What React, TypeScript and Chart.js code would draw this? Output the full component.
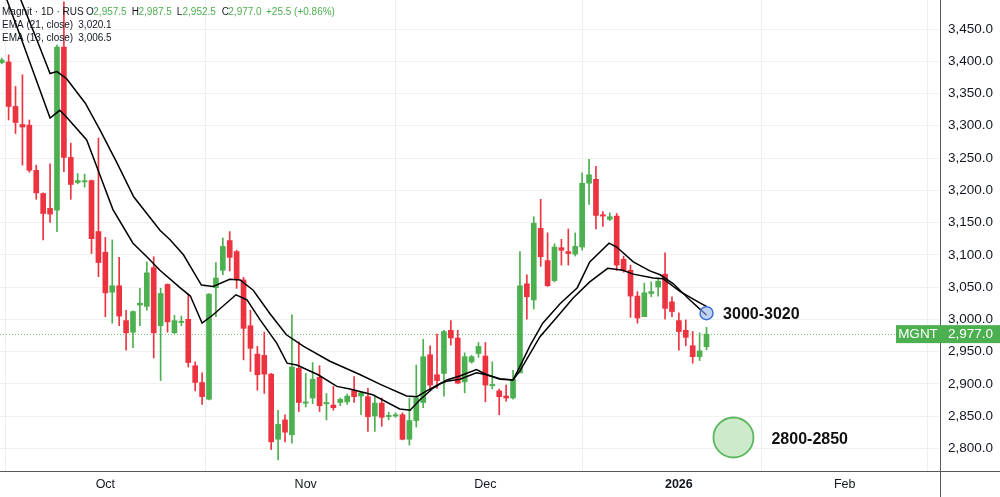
import React, { useEffect, useRef } from "react";
import { Chart, registerables } from "chart.js";

Chart.register(...registerables);

// ---- Data (daily candles, bar index 0..102) ----
const barOpen = [
  3398, 3399, 3330, 3302, 3301, 3231, 3195, 3172, 3169, 3422,
  3251, 3212, 3213, 3215, 3136, 3104, 3042, 3052, 2998, 2980,
  3022, 3020, 3080, 2990, 3054, 2979, 2995, 3000, 2928, 2902,
  2876, 3049, 3076, 3122, 3105, 3061, 2990, 2946, 2944, 2915,
  2814, 2844, 2821, 2924, 2870, 2878, 2910, 2869, 2867, 2871,
  2872, 2890, 2881, 2880, 2850, 2870, 2849, 2850, 2852, 2814,
  2843, 2871, 2945, 2914, 2916, 2983, 2971, 2903, 2934, 2947,
  2943, 2897, 2889, 2881, 2878, 2917, 3055, 3030, 3141, 3091,
  3060, 3111, 3105, 3101, 3112, 3211, 3217, 3162, 3155, 3160,
  3093, 3076, 3036, 3004, 3040, 3050, 3070, 3027, 2998, 2983,
  2959, 2942, 2957.5,
];
const barHigh = [
  3405, 3410, 3361, 3379, 3309, 3239, 3196, 3241, 3425, 3492,
  3273, 3226, 3225, 3216, 3281, 3127, 3123, 3096, 3014, 3013,
  3048, 3089, 3097, 3048, 3055, 3006, 3005, 3039, 2934, 2917,
  3040, 3088, 3126, 3136, 3107, 3065, 3014, 2958, 2980, 2916,
  2859, 2852, 3007, 2965, 2916, 2933, 2928, 2885, 2896, 2878,
  2884, 2911, 2888, 2893, 2879, 2878, 2856, 2855, 2855, 2878,
  2929, 2969, 2959, 2977, 2983, 2998, 2983, 2948, 2944, 2964,
  2964, 2934, 2892, 2898, 2921, 3105, 3069, 3159, 3186, 3134,
  3117, 3124, 3140, 3134, 3227, 3248, 3237, 3167, 3165, 3164,
  3098, 3084, 3043, 3056, 3058, 3064, 3103, 3035, 3010, 2999,
  2981, 2979, 2987.5,
];
const barLow = [
  3396, 3309, 3288, 3239, 3228, 3186, 3123, 3150, 3136, 3229,
  3186, 3210, 3205, 3102, 3066, 3004, 2994, 2990, 2952, 2956,
  2990, 3014, 2940, 2905, 2980, 2978, 2990, 2926, 2889, 2868,
  2875, 3004, 3069, 3075, 3048, 2937, 2919, 2890, 2885, 2798,
  2782, 2810, 2808, 2857, 2864, 2869, 2857, 2844, 2859, 2866,
  2868, 2871, 2852, 2826, 2826, 2834, 2844, 2848, 2813, 2805,
  2833, 2863, 2889, 2893, 2881, 2960, 2900, 2886, 2932, 2941,
  2872, 2892, 2852, 2873, 2876, 2917, 3000, 3016, 3082, 3051,
  3058, 3084, 3084, 3098, 3107, 3178, 3140, 3144, 3153, 3076,
  3073, 3003, 2994, 3004, 3035, 3036, 3000, 3004, 2952, 2959,
  2932, 2936, 2952.5,
];
const barClose = [
  3402, 3330, 3305, 3298, 3231, 3196, 3164, 3163, 3422, 3251,
  3209, 3215, 3215, 3125, 3088, 3041, 3052, 3005, 2979, 3012,
  3025, 3072, 2979, 3040, 2996, 2998, 2997, 2933, 2902, 2880,
  3039, 3064, 3113, 3096, 3062, 2986, 2955, 2914, 2915, 2810,
  2837, 2825, 2926, 2871, 2872, 2907, 2866, 2871, 2863, 2876,
  2881, 2880, 2886, 2849, 2870, 2848, 2851, 2852, 2814, 2843,
  2878, 2942, 2898, 2905, 2981, 2971, 2901, 2942, 2942, 2958,
  2898, 2899, 2880, 2878, 2907, 3052, 3035, 3149, 3097, 3052,
  3112, 3107, 3102, 3113, 3211, 3224, 3161, 3160, 3159, 3084,
  3076, 3036, 3002, 3041, 3043, 3059, 3017, 3012, 2981, 2972,
  2942, 2951, 2977.0,
];

// EMA lines (bar index, value)
const ema13Idx = [
  0, 2.9, 7.0, 8.4, 9.5, 12.3, 14.2, 16.1, 19.0, 21.0, 22.9, 25.8, 27.3, 29.0,
  30.6, 33.9, 35.5, 37.4, 39.8, 41.3, 42.7, 45.8, 48.5, 50.4, 53.7, 57.6, 59.1,
  60.5, 62.4, 64.4, 66.3, 68.7, 70.2, 72.1, 74.0, 75.0, 76.5, 78.3, 80.8, 83.3,
  85.1, 87.9, 89.0, 91.4, 93.8, 95.3, 97.2, 99.6, 102,
];
const ema13Val = [
  3517, 3433, 3312, 3324, 3312, 3278, 3224, 3170, 3118, 3097, 3076, 3049, 3036, 2994,
  3007, 3038, 3030, 2999, 2963, 2932, 2929, 2914, 2896, 2892, 2883, 2861, 2859,
  2875, 2893, 2906, 2912, 2922, 2914, 2907, 2906, 2927, 2960, 2994, 3024, 3049,
  3089, 3118, 3112, 3089, 3075, 3069, 3055, 3030, 3006.5,
];
const ema21Idx = [
  0, 5.1, 7.0, 8.0, 9.4, 12.1, 14.2, 16.7, 19.1, 21.0, 22.9, 24.4, 26.3, 28.9,
  30.6, 33.0, 34.5, 36.4, 38.8, 41.2, 43.7, 47.5, 51.9, 54.8, 58.6, 60.1, 61.5,
  63.4, 64.4, 66.3, 68.7, 70.2, 72.1, 74.0, 75.0, 77.9, 80.4, 82.7, 85.1, 87.7,
  89.9, 91.4, 94.3, 95.7, 98.2, 101.1, 102,
];
const ema21Val = [
  3569, 3433, 3381, 3384, 3373, 3335, 3294, 3242, 3190, 3164, 3138, 3123, 3100, 3053,
  3051, 3062, 3061, 3045, 3009, 2976, 2958, 2935, 2914, 2899, 2881, 2880, 2889,
  2900, 2904, 2907, 2917, 2914, 2908, 2906, 2920, 2973, 3004, 3033, 3058, 3079,
  3076, 3070, 3064, 3063, 3043, 3025, 3020.1,
];

// Axis ticks
const monthTickIdx = [15, 44, 70, 98, 122];
const monthTickLabels = ["Oct", "Nov", "Dec", "2026", "Feb"];
const priceTicks = [2800, 2850, 2900, 2950, 3000, 3050, 3100, 3150, 3200, 3250, 3300, 3350, 3400, 3450];
const lastPrice = 2977.0;
const symbolName = "MGNT";

// Target markers and their labels
const markerIdx = [102, 105.9];
const markerPrice = [3009.5, 2816.7];
const markerTexts = ["3000-3020", "2800-2850"];
const markerTextIdx = [104.4, 111.4];
const markerTextPrice = [3008, 2814];

// Header texts
const headerTitle = "Magnit · 1D · RUS";
const headerOHLC = ["2,957.5", "2,987.5", "2,952.5", "2,977.0"];
const headerChange = "+25.5 (+0.86%)";
const ema21Label = "EMA (21, close)";
const ema21Last = "3,020.1";
const ema13Label = "EMA (13, close)";
const ema13Last = "3,006.5";

const FONT = "'Liberation Sans', Arial, sans-serif";
const GREEN = "#4caf50";
const RED = "#ec3441";
const TEXT = "#131722";

const fmt = (v: number) =>
  v.toLocaleString("en-US", { minimumFractionDigits: 1, maximumFractionDigits: 1 });

export default function App() {
  const ref = useRef<HTMLCanvasElement | null>(null);

  useEffect(() => {
    const canvas = ref.current;
    if (!canvas) return;
    const idx = barOpen.map((_, i) => i);
    const colors = idx.map((i) => (barClose[i] >= barOpen[i] ? GREEN : RED));

    const overlay = {
      id: "overlay",
      beforeDatasetsDraw(chart: any) {
        const { ctx, chartArea } = chart;
        const y = Math.round(chart.scales.y.getPixelForValue(lastPrice)) + 0.5;
        ctx.save();
        ctx.strokeStyle = "rgba(76,175,80,0.75)";
        ctx.lineWidth = 1;
        ctx.setLineDash([1, 2]);
        ctx.beginPath();
        ctx.moveTo(chartArea.left, y);
        ctx.lineTo(chartArea.right, y);
        ctx.stroke();
        ctx.restore();
      },
      afterDraw(chart: any) {
        const { ctx, chartArea, width, height } = chart;
        const xs = chart.scales.x;
        const ys = chart.scales.y;
        ctx.save();
        // axis lines
        ctx.strokeStyle = "#5a5a5a";
        ctx.lineWidth = 1;
        ctx.beginPath();
        ctx.moveTo(Math.round(chartArea.right) + 0.5, 0);
        ctx.lineTo(Math.round(chartArea.right) + 0.5, height);
        ctx.moveTo(0, Math.round(chartArea.bottom) + 0.5);
        ctx.lineTo(width, Math.round(chartArea.bottom) + 0.5);
        ctx.stroke();

        // last price label
        const py = ys.getPixelForValue(lastPrice);
        ctx.fillStyle = GREEN;
        ctx.fillRect(chartArea.right - 44, py - 9, width - (chartArea.right - 44), 18);
        ctx.fillStyle = "#ffffff";
        ctx.font = `13.5px ${FONT}`;
        ctx.textBaseline = "middle";
        ctx.textAlign = "center";
        ctx.fillText(symbolName, chartArea.right - 22, py + 0.5);
        ctx.textAlign = "left";
        ctx.fillText(fmt(lastPrice), chartArea.right + 8, py + 0.5);

        // marker texts
        ctx.fillStyle = "#111111";
        ctx.font = `bold 16px ${FONT}`;
        ctx.textAlign = "left";
        ctx.textBaseline = "middle";
        markerTexts.forEach((t, k) => {
          ctx.fillText(t, xs.getPixelForValue(markerTextIdx[k]), ys.getPixelForValue(markerTextPrice[k]));
        });

        // header
        ctx.font = `10px ${FONT}`;
        ctx.textBaseline = "middle";
        ctx.fillStyle = TEXT;
        ctx.fillText(headerTitle, 2, 12.5);
        const letters = ["O", "H", "L", "C"];
        const lx = [86, 131.7, 176.7, 221.7];
        const vx = [93.3, 138.5, 182.5, 228.3];
        letters.forEach((l, k) => {
          ctx.fillStyle = TEXT;
          ctx.fillText(l, lx[k], 12.5);
          ctx.fillStyle = GREEN;
          ctx.fillText(headerOHLC[k], vx[k], 12.5);
        });
        ctx.fillStyle = GREEN;
        ctx.fillText(headerChange, 266, 12.5);
        ctx.fillStyle = TEXT;
        ctx.fillText(ema21Label, 2, 25.5);
        ctx.fillText(ema21Last, 78.3, 25.5);
        ctx.fillText(ema13Label, 2, 38.5);
        ctx.fillText(ema13Last, 78.3, 38.5);
        ctx.restore();
      },
    };

    const chart = new Chart(canvas, {
      type: "bar",
      data: {
        datasets: [
          {
            type: "scatter",
            data: [{ x: markerIdx[0], y: markerPrice[0] }],
            pointRadius: 6.5,
            backgroundColor: "rgba(150,182,240,0.6)",
            borderColor: "#3f6fd6",
            borderWidth: 1.5,
            order: 0,
          } as any,
          {
            type: "scatter",
            data: [{ x: markerIdx[1], y: markerPrice[1] }],
            pointRadius: 20,
            backgroundColor: "rgba(200,232,196,0.9)",
            borderColor: "#5cb860",
            borderWidth: 1.8,
            order: 0,
          } as any,
          {
            type: "line",
            data: ema13Idx.map((x, k) => ({ x, y: ema13Val[k] })),
            borderColor: "#000000",
            borderWidth: 1.5,
            pointRadius: 0,
            tension: 0,
            order: 1,
          } as any,
          {
            type: "line",
            data: ema21Idx.map((x, k) => ({ x, y: ema21Val[k] })),
            borderColor: "#000000",
            borderWidth: 1.5,
            pointRadius: 0,
            tension: 0,
            order: 1,
          } as any,
          {
            type: "bar",
            data: idx.map((i) => ({ x: i, y: [barOpen[i], barClose[i]] })),
            backgroundColor: colors,
            barThickness: 5,
            minBarLength: 1,
            grouped: false,
            order: 2,
          } as any,
          {
            type: "bar",
            data: idx.map((i) => ({ x: i, y: [barLow[i], barHigh[i]] })),
            backgroundColor: colors,
            barThickness: 1,
            grouped: false,
            order: 3,
          } as any,
        ],
      },
      options: {
        animation: false,
        responsive: true,
        maintainAspectRatio: false,
        events: [],
        layout: { padding: 0, autoPadding: false },
        plugins: {
          legend: { display: false },
          tooltip: { enabled: false },
        },
        scales: {
          x: {
            type: "linear",
            min: -0.246,
            max: 135.79,
            offset: false,
            afterFit: (s: any) => {
              s.height = 26;
              s.paddingLeft = 0;
              s.paddingRight = 0;
            },
            afterBuildTicks: (s: any) => {
              s.ticks = monthTickIdx.map((v) => ({ value: v }));
            },
            grid: { color: "#eeeeee", drawTicks: false },
            border: { display: false },
            ticks: {
              padding: 6,
              autoSkip: false,
              maxRotation: 0,
              color: TEXT,
              font: (c: any) => ({
                family: FONT,
                size: 12.5,
                weight: c.tick && c.tick.value === 98 ? "bold" : "normal",
              }),
              callback: (v: any) => {
                const k = monthTickIdx.indexOf(Number(v));
                return k >= 0 ? monthTickLabels[k] : "";
              },
            },
          },
          y: {
            type: "linear",
            position: "right",
            min: 2764.8,
            max: 3495,
            afterFit: (s: any) => {
              s.width = 60;
              s.paddingTop = 0;
              s.paddingBottom = 0;
            },
            afterBuildTicks: (s: any) => {
              s.ticks = priceTicks.map((v) => ({ value: v }));
            },
            grid: { color: "#f0f0f0", drawTicks: false },
            border: { display: false },
            ticks: {
              padding: 8,
              color: TEXT,
              font: { family: FONT, size: 13.5 },
              callback: (v: any) => fmt(Number(v)),
            },
          },
        },
      } as any,
      plugins: [overlay],
    });

    return () => chart.destroy();
  }, []);

  return (
    <div style={{ position: "absolute", left: 0, top: 0, width: 1000, height: 497, background: "#ffffff" }}>
      <canvas ref={ref} />
    </div>
  );
}
